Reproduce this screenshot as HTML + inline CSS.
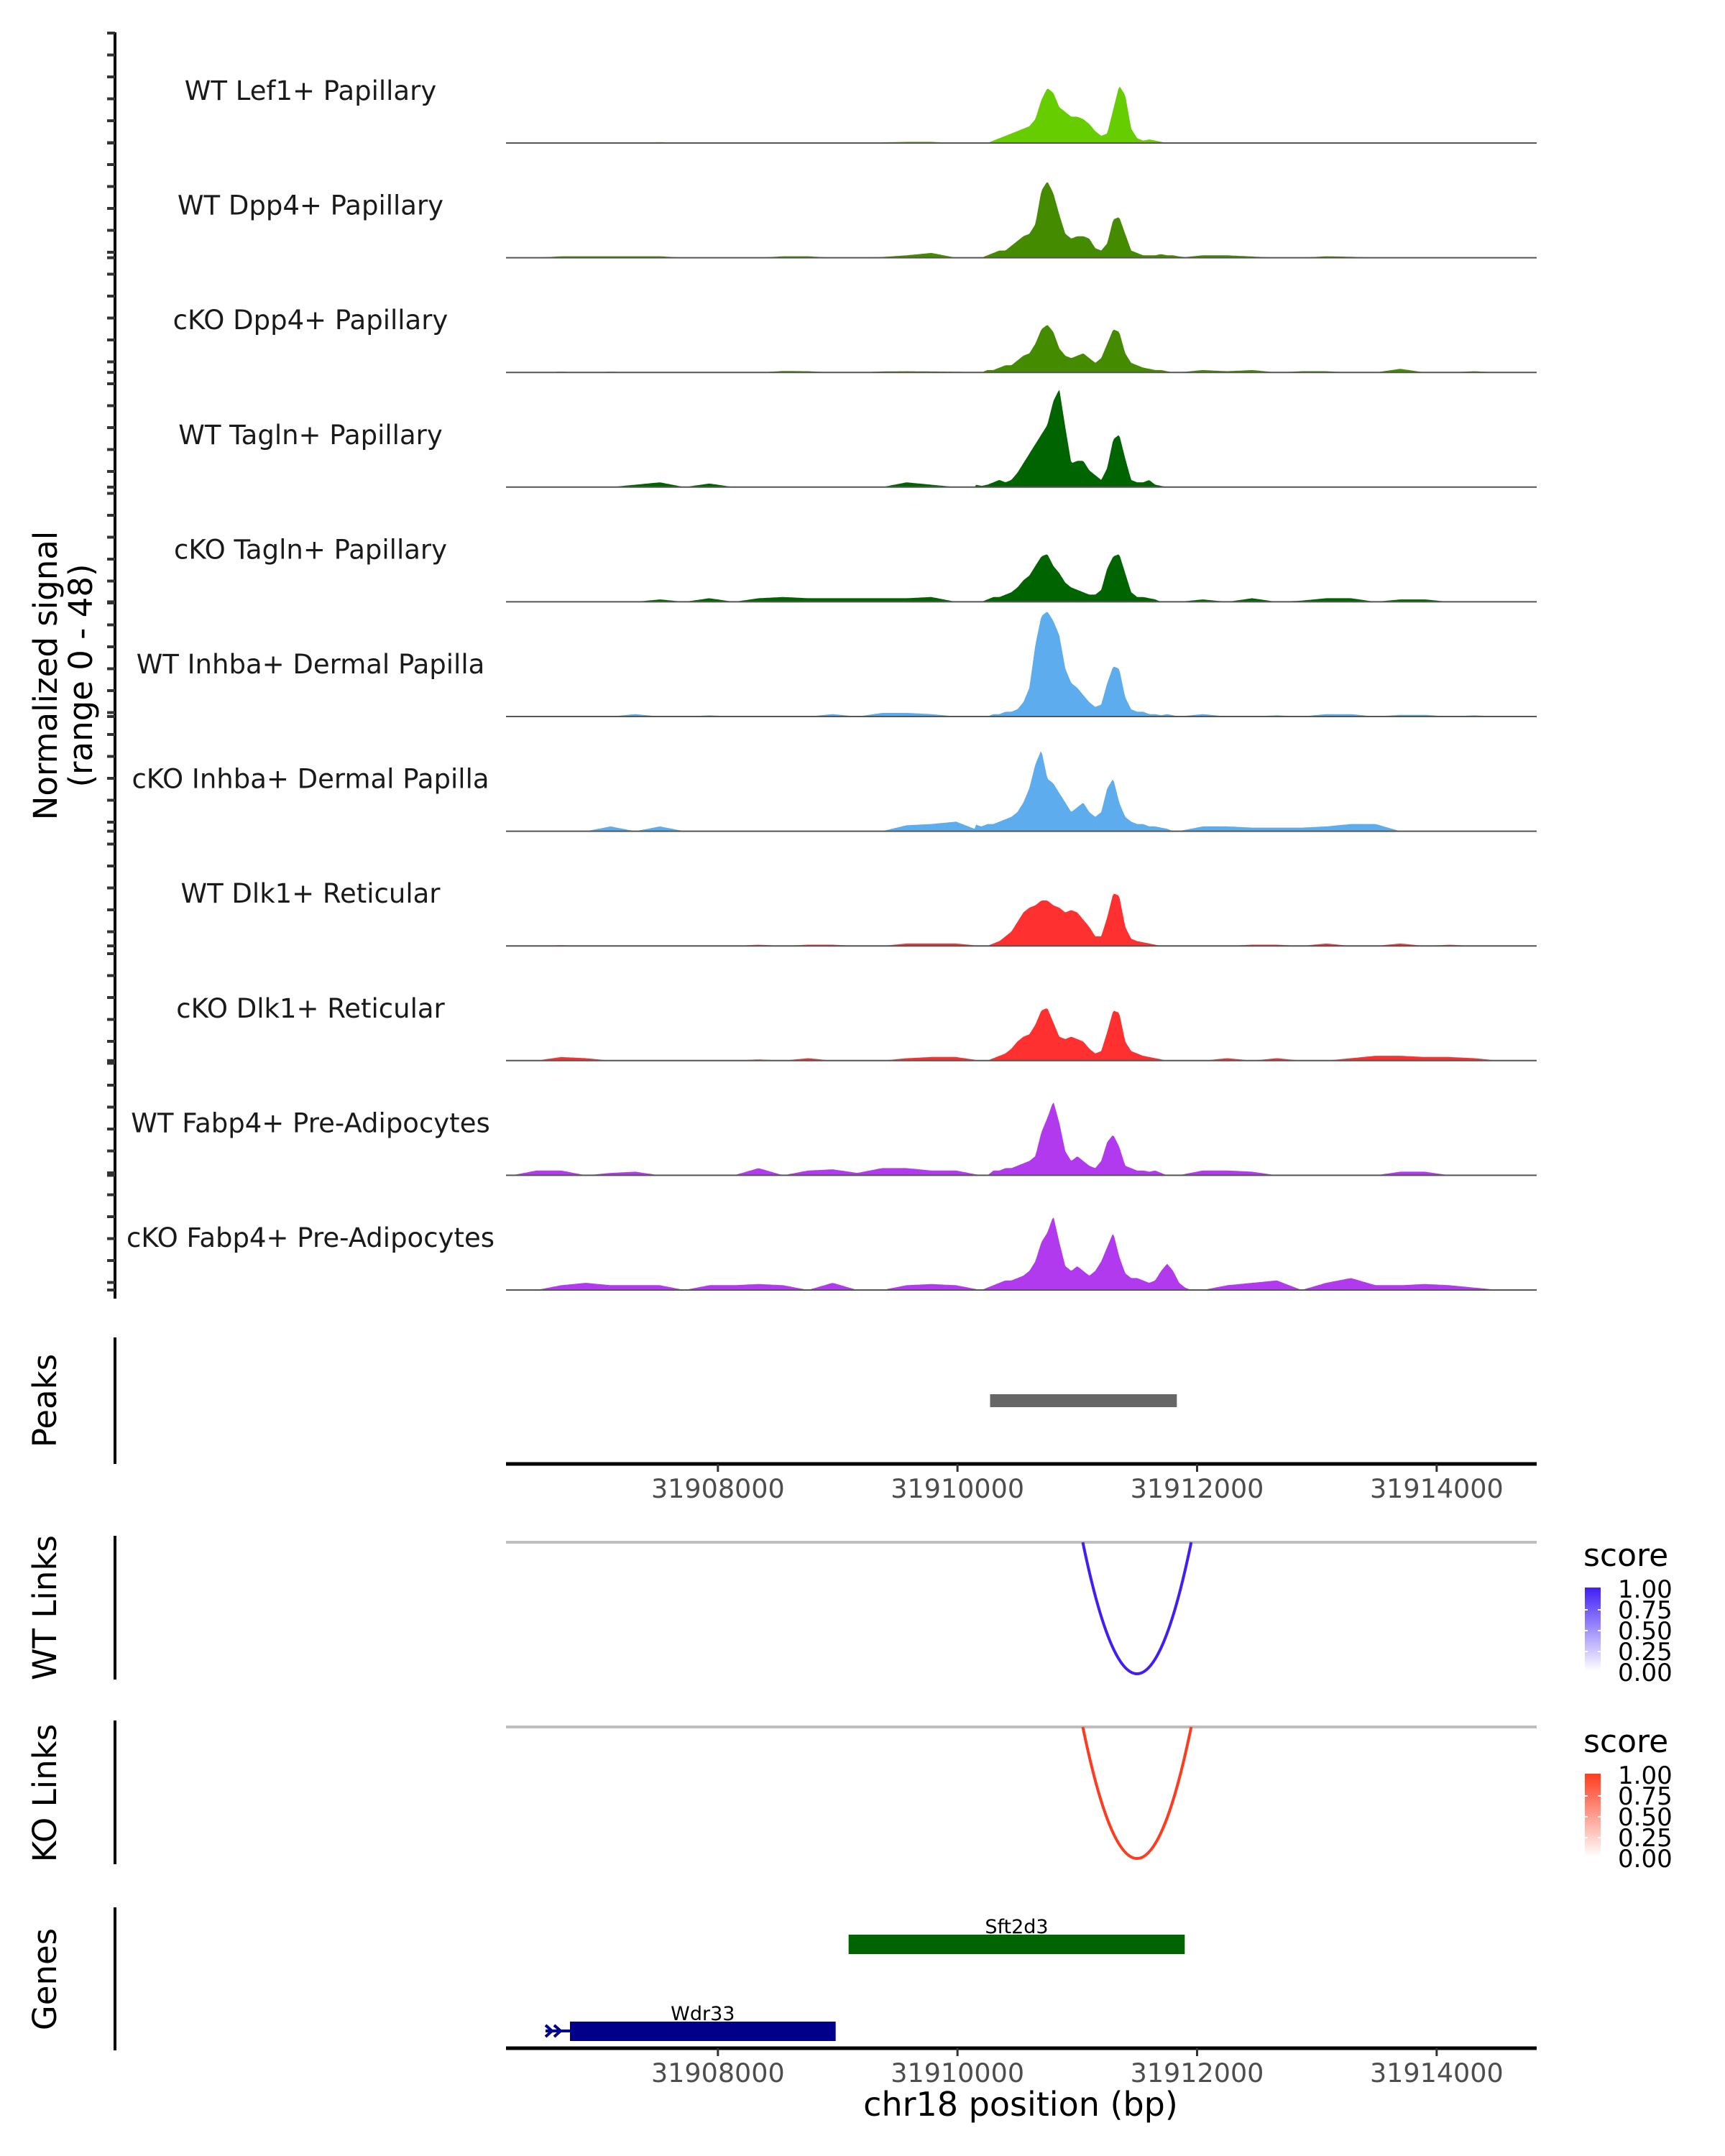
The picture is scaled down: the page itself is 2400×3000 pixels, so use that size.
<!DOCTYPE html>
<html><head><meta charset="utf-8"><style>
html,body{margin:0;padding:0;background:#fff;}
svg{display:block;font-family:"DejaVu Sans","Liberation Sans",sans-serif;}
</style></head><body>
<svg id="chart" width="2400" height="3000" viewBox="0 0 2400 3000" xmlns="http://www.w3.org/2000/svg">
<g id="tracks"></g>
<g id="leftaxis"></g>
<text transform="translate(79,940) rotate(-90)" text-anchor="middle" font-size="45" fill="#000">Normalized signal</text>
<text transform="translate(128,940) rotate(-90)" text-anchor="middle" font-size="45" fill="#000">(range 0 - 48)</text>
<g id="lower"></g>
</svg>
<script>
const domainStart = 31906231, domainEnd = 31914835;
const coreStart = 31910150, coreStep = 50;
const bgStart = 31906280, bgStep = 206;
const trackNames = ["WT Lef1+ Papillary","WT Dpp4+ Papillary","cKO Dpp4+ Papillary","WT Tagln+ Papillary","cKO Tagln+ Papillary","WT Inhba+ Dermal Papilla","cKO Inhba+ Dermal Papilla","WT Dlk1+ Reticular","cKO Dlk1+ Reticular","WT Fabp4+ Pre-Adipocytes","cKO Fabp4+ Pre-Adipocytes"];
const trackColors = ["#66CD00","#458B00","#458B00","#006400","#006400","#5CACEE","#5CACEE","#FF3030","#FF3030","#B23AEE","#B23AEE"];
const coreLef1 = [0,0,0,1,2,3,4,5,6,7,10,18,23,21,15,13,11,11,10,8,5,3,4,14,24,20,6,2,1,1.5,1,0.5,0,0,0,0,0,0,0,0,0];
const coreWtDpp4 = [0,0,1,2,3,3,5,7,9,10,14,28,32,27,18,10,8,9,9,8,4,3,6,16,17,10,3,2,1,1,1,1.5,1,1,0.5,0,0,0,0,0,0];
const coreKoDpp4 = [0,0,1,1,2,3,3,5,7,8,12,18,20,17,10,7,6,7,8,6,4,6,12,18,17,8,4,3,2,1.5,1,1,0.5,0,0,0,0,0,0,0,0];
const coreWtTagln = [1,0.5,1,2,3,2,3,6,10,14,18,22,26,36,41,25,10,11,11,7,5,3,8,20,22,12,3,2,2,3,1,0.5,0,0,0,0,0,0,0,0,0];
const coreKoTagln = [0,0,1,2,2,3,4,6,9,11,15,19,20,15,12,8,6,5,4,3,3,5,14,19,20,12,4,2,2,1.5,1,0,0,0,0,0,0,0,0,0,0];
const coreWtInhba = [0,0,0,1,1,2,2,3,6,12,30,42,44,40,34,20,14,12,9,6,4,5,14,21,20,8,3,2,2,1,1,0.5,1,0.5,0,0,0,0,0,0,0];
const coreKoInhba = [2,2,3,3,4,5,6,8,12,18,28,34,22,20,16,12,8,10,12,8,6,8,18,22,12,6,4,3,3,2,2,1.5,1,0,0,0,0,0,0,0,0];
const coreWtDlk1 = [0,0,0,1,2,4,6,10,14,16,17,19,19,17,16,14,15,14,11,8,4,4,12,22,21,8,3,2,1.5,1,0.5,0,0,0,0,0,0,0,0,0,0];
const coreKoDlk1 = [0,0,0,1,2,3,5,8,10,11,15,21,22,16,10,9,10,9,8,5,3,4,12,21,20,8,4,3,2,1.5,1,0.5,0,0,0,0,0,0,0,0,0];
const coreWtFabp4 = [0,0,0,2,2,3,3,4,5,6,8,18,24,31,22,10,6,8,6,4,3,6,14,17,12,4,3,2,2,1.5,2,1,0,0,0,0,0,0,0,0,0];
const coreKoFabp4 = [0,0,1,2,3,4,4,5,6,8,12,20,24,31,20,10,8,10,8,6,8,12,18,24,14,7,5,5,4,3,4,8,11,8,3,1,0,0,0,0,0];
const bgLef1 = [0,0,0,0,0,0,0.4,0,0,0,0,0,0,0,0,0.3,0.5,0.5,0,0,0,0,0,0,0,0,0,0,0.3,0,0,0,0.3,0.3,0,0,0,0.3,0,0,0,0];
const bgWtDpp4 = [0,0,0.6,0.6,0.6,0.6,0.6,0,0,0,0,0.6,0.6,0,0,0.3,1,2,0,0,0,0,0,0,0,0,0,0,1,1,0.5,0,0,0.6,0.4,0,0,0,0,0,0,0];
const bgKoDpp4 = [0,0,0.3,0,0.3,0,0,0,0,0,0,0.6,0.5,0,0,0.4,0.5,0.4,0.3,0,0,0,0,0,0,0,0,0,1,0.5,1,0,0.5,0.5,0,0,1.5,0,0,0.5,0,0];
const bgWtTagln = [0,0,0,0,0,1,2,0,1.5,0,0,0,0,0,0,0,2,1,0,0,0,0,0,0,0,0,0,0,0,0,0,0,0,0,0,0,0,0,0,0,0,0];
const bgKoTagln = [0,0,0,0,0,0,1,0,1.5,0,1.5,2,1.5,1.5,1.5,1.5,1.5,2,0,0,0,0,0,0,0,0,0,0,1,0,1.5,0,0.5,1.5,1.5,0,1,1,0,0,0,0];
const bgWtInhba = [0,0,0,0,0,1,0,0,0.5,0,0,0,0,1,0,1.5,1.5,1,0,0,0,0,0,0,0,0,0,0,1,0,0,0.5,0,1,1,0,0.7,0.7,0,0.5,0,0];
const bgKoInhba = [0,0,0,0,2,0,2,0,0,0,0,0,0,0,0,0,2.5,3,4,0,0,0,0,0,0,0,0,0,2,2,1.5,1.5,1.5,2,3,3,0,0,0,0,0,0];
const bgWtDlk1 = [0,0,0.3,0,0,0,0,0,0,0,0.5,0,0.5,0.5,0,0,1,1,1,0,0,0,0,0,0,0,0,0,0,0,0.5,0.5,0,1,0,0,1,0,0.5,0,0,0];
const bgKoDlk1 = [0,0,1.5,1,0,0,0,0,0,0,0.5,0,1,0,0,0,1,1.5,1.5,0,0,0,0,0,0,0,0,0,0,1,0,1,0,0,1,2,2,1.5,1.5,1,0,0];
const bgWtFabp4 = [0,2,2,0,1,1.5,0,0,0,0,3,0,2,2.5,1,3,3,2,2,0,0,0,0,0,0,0,0,0,2,2,1.5,0,0,0,0,0,1.5,1.5,0,0,0,0];
const bgKoFabp4 = [0,0,2,3,2,2,2,0,2,2,2.5,2,0,3,0,0,2,2.5,2,0,0,0,0,0,0,0,0,0,0,2,3,4,0,3,5,2,2,2.5,2,1,0,0];
const coreSeries = [coreLef1,coreWtDpp4,coreKoDpp4,coreWtTagln,coreKoTagln,coreWtInhba,coreKoInhba,coreWtDlk1,coreKoDlk1,coreWtFabp4,coreKoFabp4];
const bgSeries = [bgLef1,bgWtDpp4,bgKoDpp4,bgWtTagln,bgKoTagln,bgWtInhba,bgKoInhba,bgWtDlk1,bgKoDlk1,bgWtFabp4,bgKoFabp4];
const xTicks = [31908000,31910000,31912000,31914000];
const peakRegions = [[31910272,31911831]];
const wtLinks = [[31911046,31911951,0.9]];
const koLinks = [[31911046,31911951,0.85]];
const genes = [["Sft2d3",31909091,31911897,0],["Wdr33",31906765,31908983,1]];
const legendTicks = ["1.00","0.75","0.50","0.25","0.00"];
const signalMax = 48;

const NS="http://www.w3.org/2000/svg";
const X0=704,X1=2138;
function x(bp){return X0+(bp-domainStart)/(domainEnd-domainStart)*(X1-X0);}
function mk(tag,attrs,parent){const e=document.createElementNS(NS,tag);for(const k in attrs)e.setAttribute(k,attrs[k]);parent.appendChild(e);return e;}
function interp(arr,start,step,bp){const f=(bp-start)/step;if(f<0||f>arr.length-1)return 0;const i=Math.floor(f);const t=f-i;const a=arr[i],b=arr[Math.min(i+1,arr.length-1)];return a+(b-a)*t;}

const tracksG=document.getElementById('tracks');
const base0=199, spacing=159.6, unitPx=spacing/signalMax;
for(let k=0;k<trackNames.length;k++){
  const by=base0+spacing*k;
  const g=mk('g',{},tracksG);
  
  
  let d='M'+X0+','+by;
  for(let px=X0;px<=X1;px+=2){
    const bp=domainStart+(px-X0)/(X1-X0)*(domainEnd-domainStart);
    const v=interp(coreSeries[k],coreStart,coreStep,bp)+interp(bgSeries[k],bgStart,bgStep,bp);
    d+=' L'+px+','+(by-v*unitPx).toFixed(1);
  }
  d+=' L'+X1+','+by+' Z';
  const p=mk('path',{d:d,fill:trackColors[k]},g);
  
  
  const ln=mk('line',{x1:X0,x2:X1,y1:by,y2:by,stroke:'#555',"stroke-width":2},g);
  
  
  const t=mk('text',{x:432,y:by-60,"text-anchor":"middle","font-size":37,fill:'#1a1a1a'},g);
  t.textContent=trackNames[k];
  
  
}
const la=document.getElementById('leftaxis');
const lastBase=base0+spacing*(trackNames.length-1);
mk('line',{x1:160,x2:160,y1:45,y2:lastBase+12,stroke:'#000',"stroke-width":4},la);
for(let y=46;y<=lastBase+10;y+=30.5){mk('line',{x1:149,x2:160,y1:y,y2:y,stroke:'#333',"stroke-width":4},la);}
for(let k=0;k<trackNames.length;k++){const by=base0+spacing*k;mk('line',{x1:149,x2:160,y1:by,y2:by,stroke:'#333',"stroke-width":4},la);}

const lo=document.getElementById('lower');
function sideLabel(txt,cy,name){const t=mk('text',{transform:'translate(78,'+cy+') rotate(-90)',"text-anchor":"middle","font-size":45,fill:'#000'},lo);t.textContent=txt;}
function vline(y1,y2){mk('line',{x1:160,x2:160,y1:y1,y2:y2,stroke:'#000',"stroke-width":4},lo);}
function xaxis(y,name){const g=mk('g',{},lo);
  mk('line',{x1:X0,x2:X1,y1:y,y2:y,stroke:'#000',"stroke-width":5},g);
  for(const tv of xTicks){mk('line',{x1:x(tv),x2:x(tv),y1:y,y2:y+11,stroke:'#333',"stroke-width":3},g);
    const t=mk('text',{x:x(tv),y:y+47,"text-anchor":"middle","font-size":36.5,fill:'#4d4d4d'},g);t.textContent=tv;}}
sideLabel('Peaks',1949,'peaks-label'); vline(1861,2037);
for(const r of peakRegions){const p=mk('rect',{x:x(r[0]),y:1940,width:x(r[1])-x(r[0]),height:18,fill:'#666'},lo);}
xaxis(2037,'peaks-x-axis');
function links(arr,top,bottom,hi,label,lcy,legY,gradId){
  sideLabel(label,lcy,label.toLowerCase().replace(' ','-')+'-label'); vline(top-9,bottom+8);
  mk('line',{x1:X0,x2:X1,y1:top,y2:top,stroke:'#bebebe',"stroke-width":4},lo);
  for(const l of arr){const a=x(l[0]),b=x(l[1]);const cy=2*bottom-top;
    const p=mk('path',{d:'M'+a+','+top+' Q'+((a+b)/2)+','+cy+' '+b+','+top,fill:'none',stroke:hi,"stroke-width":4},lo);
    }
  const defs=mk('defs',{},lo);const gr=mk('linearGradient',{id:gradId,x1:0,y1:1,x2:0,y2:0},defs);
  mk('stop',{offset:0,"stop-color":'#ffffff'},gr);mk('stop',{offset:1,"stop-color":hi},gr);
  const st=mk('text',{x:2203,y:legY-30,"font-size":44,fill:'#000'},lo);st.textContent='score';
  
  const bar=mk('rect',{x:2205,y:legY,width:22,height:116,fill:'url(#'+gradId+')'},lo);
  
  legendTicks.forEach((lt,i)=>{const yy=legY+2+i*29;const t=mk('text',{x:2251,y:yy+12,"font-size":34,fill:'#000'},lo);t.textContent=lt;
    if(i>0&&i<4){mk('line',{x1:2205,x2:2209,y1:yy,y2:yy,stroke:'#fff',"stroke-width":2},lo);mk('line',{x1:2223,x2:2227,y1:yy,y2:yy,stroke:'#fff',"stroke-width":2},lo);}});
}
links(wtLinks,2146,2329,'#3f1ff5','WT Links',2237,2209,'gB');
links(koLinks,2403,2586,'#ff3b1f','KO Links',2495,2468,'gR');
sideLabel('Genes',2754,'genes-label'); vline(2654,2853);
const geneRowY=[2705,2826], geneCol=['#006400','#00008B'];
for(const gn of genes){const yc=geneRowY[gn[3]],col=geneCol[gn[3]];
  const r=mk('rect',{x:x(gn[1]),y:yc-13,width:x(gn[2])-x(gn[1]),height:27,fill:col},lo);
  
  const t=mk('text',{x:(x(gn[1])+x(gn[2]))/2,y:yc-15,"text-anchor":"middle","font-size":27,fill:'#000'},lo);t.textContent=gn[0];
  }
const ar=x(genes[1][1]);
mk('path',{d:'M'+(ar-34)+',2818 L'+(ar-25)+',2826 L'+(ar-34)+',2834 M'+(ar-22)+',2818 L'+(ar-13)+',2826 L'+(ar-22)+',2834 M'+(ar-34)+',2826 L'+ar+',2826',fill:'none',stroke:'#00008B',"stroke-width":4},lo);
xaxis(2850,'genes-x-axis');
const xt=mk('text',{x:1420,y:2944,"text-anchor":"middle","font-size":46,fill:'#000'},lo);xt.textContent='chr18 position (bp)';

</script>
</body></html>
